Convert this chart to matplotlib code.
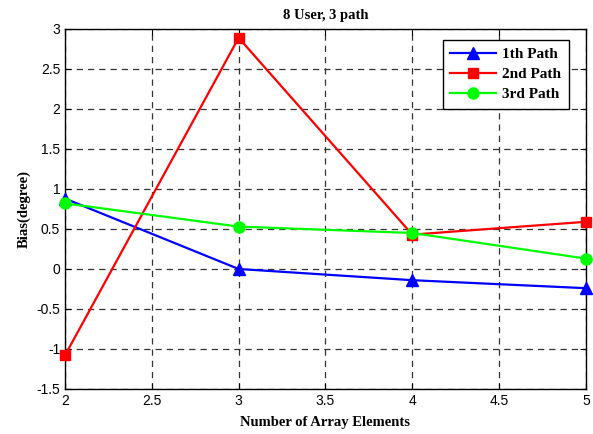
import matplotlib.pyplot as plt

# array sizes on the x axis
elements = [2, 3, 4, 5]

# bias per path, in degrees
path1 = [0.88, 0.0, -0.14, -0.24]
path2 = [-1.08, 2.89, 0.43, 0.59]
path3 = [0.82, 0.53, 0.45, 0.13]

fig = plt.figure(figsize=(5.93, 4.34), dpi=100)
ax = fig.add_axes([0.1096, 0.1037, 0.8785, 0.8295])

ax.plot(elements, path1, color='blue', marker='^', markersize=8, linewidth=1.6,
        label='1th Path', clip_on=False, zorder=3)
ax.plot(elements, path2, color='red', marker='s', markersize=7.5, linewidth=1.6,
        label='2nd Path', clip_on=False, zorder=3)
ax.plot(elements, path3, color=(0, 1, 0), marker='o', markersize=8, linewidth=1.6,
        label='3rd Path', clip_on=False, zorder=3)

ax.set_xlim(2, 5)
ax.set_ylim(-1.5, 3)
ax.set_xticks([2, 2.5, 3, 3.5, 4, 4.5, 5])
ax.set_xticklabels(['2', '2.5', '3', '3.5', '4', '4.5', '5'])
ax.set_yticks([-1.5, -1, -0.5, 0, 0.5, 1, 1.5, 2, 2.5, 3])
ax.set_yticklabels(['-1.5', '-1', '-0.5', '0', '0.5', '1', '1.5', '2', '2.5', '3'])
ax.grid(True, color='#333333', linestyle=(0, (5, 4)), linewidth=0.9)
ax.tick_params(direction='in', top=True, right=True, length=4, labelsize=10)
for lbl in ax.get_xticklabels() + ax.get_yticklabels():
    lbl.set_family('Liberation Sans')
for s in ax.spines.values():
    s.set_linewidth(1.0)

serif = {'family': 'Liberation Serif', 'weight': 'bold', 'size': 10.5}
ax.set_title('8 User, 3 path', fontdict=serif, pad=7)
ax.set_xlabel('Number of Array Elements', fontdict=serif, labelpad=6)
ax.set_ylabel('Bias(degree)', fontdict=serif, labelpad=4)

leg_font = {'family': 'Liberation Serif', 'weight': 'bold', 'size': 11}
leg = ax.legend(loc='upper right', bbox_to_anchor=(0.967, 0.969), prop=leg_font,
                fancybox=False, framealpha=1, edgecolor='black',
                handlelength=3.0, handletextpad=0.4, borderpad=0.5,
                labelspacing=0.4, borderaxespad=0)
leg.get_frame().set_linewidth(1.0)

fig.savefig('out.png', dpi=100)
